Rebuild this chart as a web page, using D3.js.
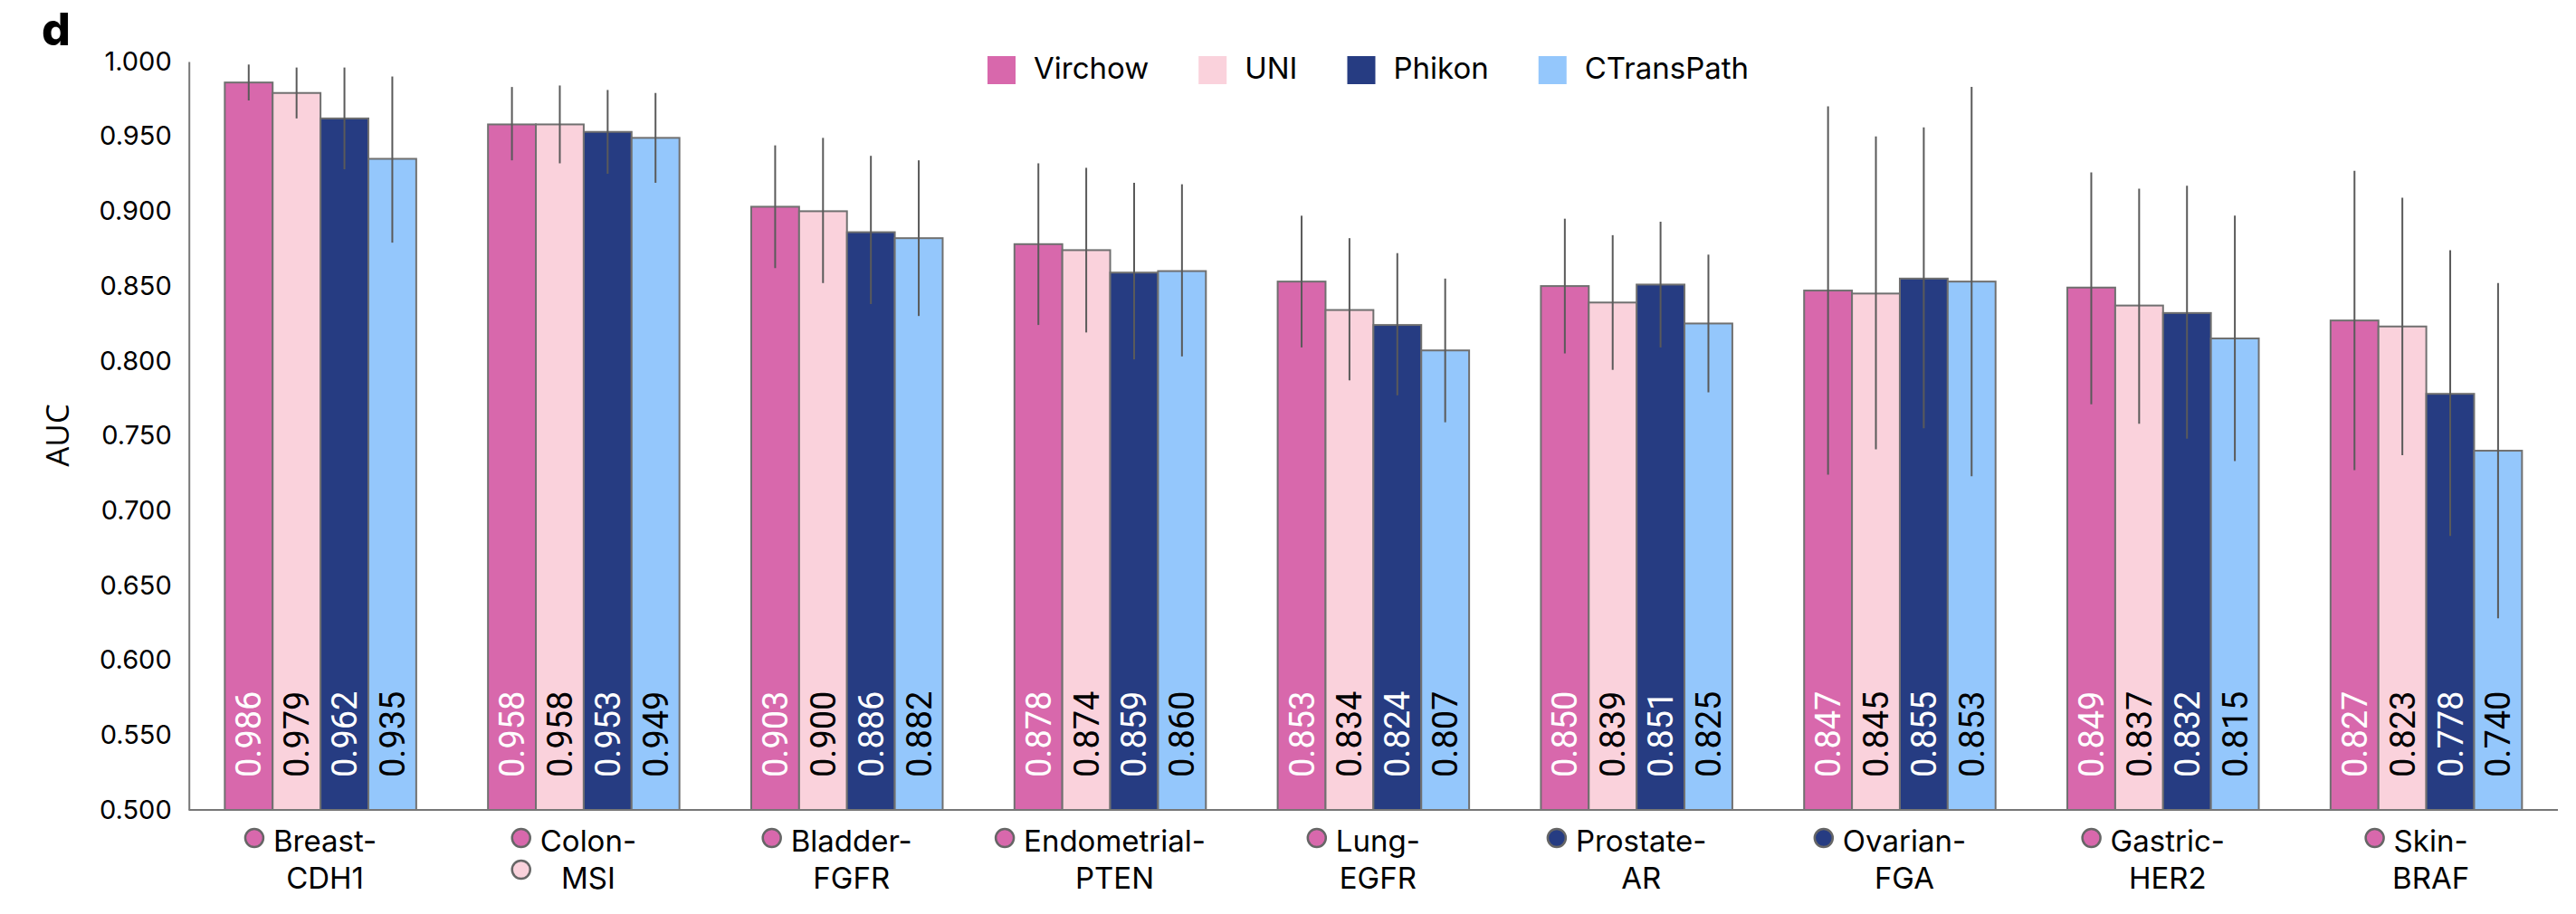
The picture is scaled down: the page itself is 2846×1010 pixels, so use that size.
<!DOCTYPE html>
<html>
<head>
<meta charset="utf-8">
<script src="https://cdn.jsdelivr.net/npm/d3@7"></script>
<style>
  html, body { margin: 0; padding: 0; background: #fff; }
  svg { display: block; }
</style>
</head>
<body>
<svg id="chart" width="2846" height="1010"></svg>
<script>
// ---------------- data ----------------
const categories = ["Breast-CDH1", "Colon-MSI", "Bladder-FGFR", "Endometrial-PTEN", "Lung-EGFR",
                    "Prostate-AR", "Ovarian-FGA", "Gastric-HER2", "Skin-BRAF"];
const categoryLine1 = ["Breast-", "Colon-", "Bladder-", "Endometrial-", "Lung-", "Prostate-", "Ovarian-", "Gastric-", "Skin-"];
const categoryLine2 = ["CDH1", "MSI", "FGFR", "PTEN", "EGFR", "AR", "FGA", "HER2", "BRAF"];

const models = ["Virchow", "UNI", "Phikon", "CTransPath"];

const virchowAUC    = [0.986, 0.958, 0.903, 0.878, 0.853, 0.850, 0.847, 0.849, 0.827];
const uniAUC        = [0.979, 0.958, 0.900, 0.874, 0.834, 0.839, 0.845, 0.837, 0.823];
const phikonAUC     = [0.962, 0.953, 0.886, 0.859, 0.824, 0.851, 0.855, 0.832, 0.778];
const ctranspathAUC = [0.935, 0.949, 0.882, 0.860, 0.807, 0.825, 0.853, 0.815, 0.740];

const virchowLow    = [0.974, 0.934, 0.862, 0.824, 0.809, 0.805, 0.724, 0.771, 0.727];
const virchowHigh   = [0.998, 0.983, 0.944, 0.932, 0.897, 0.895, 0.970, 0.926, 0.927];
const uniLow        = [0.962, 0.932, 0.852, 0.819, 0.787, 0.794, 0.741, 0.758, 0.737];
const uniHigh       = [0.996, 0.984, 0.949, 0.929, 0.882, 0.884, 0.950, 0.915, 0.909];
const phikonLow     = [0.928, 0.925, 0.838, 0.801, 0.777, 0.809, 0.755, 0.748, 0.683];
const phikonHigh    = [0.996, 0.981, 0.937, 0.919, 0.872, 0.893, 0.956, 0.917, 0.874];
const ctranspathLow = [0.879, 0.919, 0.830, 0.803, 0.759, 0.779, 0.723, 0.733, 0.628];
const ctranspathHigh= [0.990, 0.979, 0.934, 0.918, 0.855, 0.871, 0.983, 0.897, 0.852];

const yTicks = [0.500, 0.550, 0.600, 0.650, 0.700, 0.750, 0.800, 0.850, 0.900, 0.950, 1.000];

// ---------------- styles ----------------
const modelColors = ["#D868AC", "#FAD2DC", "#263C82", "#94C7FC"];
const labelColors = ["#ffffff", "#000000", "#ffffff", "#000000"];
const FONT = "Inter, 'Noto Sans', sans-serif";

const values = [virchowAUC, uniAUC, phikonAUC, ctranspathAUC];
const lows = [virchowLow, uniLow, phikonLow, ctranspathLow];
const highs = [virchowHigh, uniHigh, phikonHigh, ctranspathHigh];

const rows = [];
categories.forEach((c, i) => {
  models.forEach((m, j) => {
    rows.push({cat: c, model: m, mi: j, value: values[j][i], lo: lows[j][i], hi: highs[j][i]});
  });
});

// ---------------- layout ----------------
const svg = d3.select("#chart");
const plotLeft = 208.7, plotRight = 2826, plotTop = 68, plotBottom = 895;

const x0 = d3.scaleBand().domain(categories).range([plotLeft, plotRight])
  .paddingInner(0.2727).paddingOuter(0.13635);
const x1 = d3.scaleBand().domain(models).range([0, x0.bandwidth()]).padding(0);
const y = d3.scaleLinear().domain([0.5, 1.0]).range([plotBottom, plotTop]);
const color = d3.scaleOrdinal().domain(models).range(modelColors);
const fmt = d3.format(".3f");

// panel letter
svg.append("text").attr("x", 46).attr("y", 50)
  .attr("font-family", "Inter, 'Liberation Sans', sans-serif").attr("font-weight", 800)
  .attr("font-size", 50).attr("fill", "#000").text("d");

// y axis
const yAxis = svg.append("g").attr("transform", `translate(${plotLeft},0)`)
  .call(d3.axisLeft(y).tickValues(yTicks).tickFormat(fmt).tickSize(0).tickPadding(19));
yAxis.select(".domain").attr("stroke", "#777").attr("stroke-width", 2);
yAxis.selectAll("text").attr("font-family", FONT).attr("font-size", 29).attr("fill", "#000");

// y axis title
svg.append("text")
  .attr("transform", "translate(75.5,481) rotate(-90)")
  .attr("text-anchor", "middle")
  .attr("font-family", "'Open Sans', sans-serif").attr("font-size", 35).attr("fill", "#000")
  .text("AUC");

// groups
const groups = svg.append("g").selectAll("g").data(categories).join("g")
  .attr("transform", d => `translate(${x0(d)},0)`);

// bars
groups.selectAll("rect").data(c => rows.filter(r => r.cat === c)).join("rect")
  .attr("x", d => x1(d.model))
  .attr("y", d => y(d.value))
  .attr("width", x1.bandwidth())
  .attr("height", d => y(0.5) - y(d.value))
  .attr("fill", d => color(d.model))
  .attr("stroke", "#707070").attr("stroke-width", 2);

// error bars
groups.selectAll("line.err").data(c => rows.filter(r => r.cat === c)).join("line")
  .attr("class", "err")
  .attr("x1", d => x1(d.model) + x1.bandwidth() / 2)
  .attr("x2", d => x1(d.model) + x1.bandwidth() / 2)
  .attr("y1", d => y(d.hi)).attr("y2", d => y(d.lo))
  .attr("stroke", "#5a5a5a").attr("stroke-width", 2);

// value labels
groups.selectAll("text.val").data(c => rows.filter(r => r.cat === c)).join("text")
  .attr("class", "val")
  .attr("transform", d => `translate(${x1(d.model) + x1.bandwidth() / 2 + 13.5},${y(0.5) - 36}) rotate(-90)`)
  .attr("font-family", "Roboto, sans-serif").attr("font-size", 38)
  .attr("fill", d => labelColors[d.mi])
  .text(d => fmt(d.value));

// x axis baseline
svg.append("line").attr("x1", plotLeft).attr("x2", plotRight).attr("y1", plotBottom).attr("y2", plotBottom)
  .attr("stroke", "#777").attr("stroke-width", 2);

// category labels with best-model markers
categories.forEach((c, i) => {
  const cx = x0(c) + x0.bandwidth() / 2 + 5;
  const g = svg.append("g");
  const t1 = g.append("text").attr("x", cx).attr("y", 941).attr("text-anchor", "middle")
    .attr("font-family", FONT).attr("font-size", 33).attr("fill", "#000").text(categoryLine1[i]);
  g.append("text").attr("x", cx).attr("y", 982).attr("text-anchor", "middle")
    .attr("font-family", FONT).attr("font-size", 33).attr("fill", "#000").text(categoryLine2[i]);
  const w = t1.node().getComputedTextLength();
  const best = d3.max(values, v => v[i]);
  const winners = models.map((m, j) => j).filter(j => values[j][i] === best);
  winners.forEach((j, k) => {
    g.append("circle")
      .attr("cx", cx - w / 2 - 21)
      .attr("cy", 926 + k * 35)
      .attr("r", 10)
      .attr("fill", modelColors[j])
      .attr("stroke", "#666").attr("stroke-width", 2.5);
  });
});

// legend
const legend = svg.append("g");
let lx = 1091;
models.forEach((m, j) => {
  legend.append("rect").attr("x", lx).attr("y", 62).attr("width", 31).attr("height", 31)
    .attr("fill", modelColors[j]);
  const t = legend.append("text").attr("x", lx + 51).attr("y", 87)
    .attr("font-family", FONT).attr("font-size", 33).attr("fill", "#000").text(m);
  lx += 51 + t.node().getComputedTextLength() + 55;
});
</script>
</body>
</html>
